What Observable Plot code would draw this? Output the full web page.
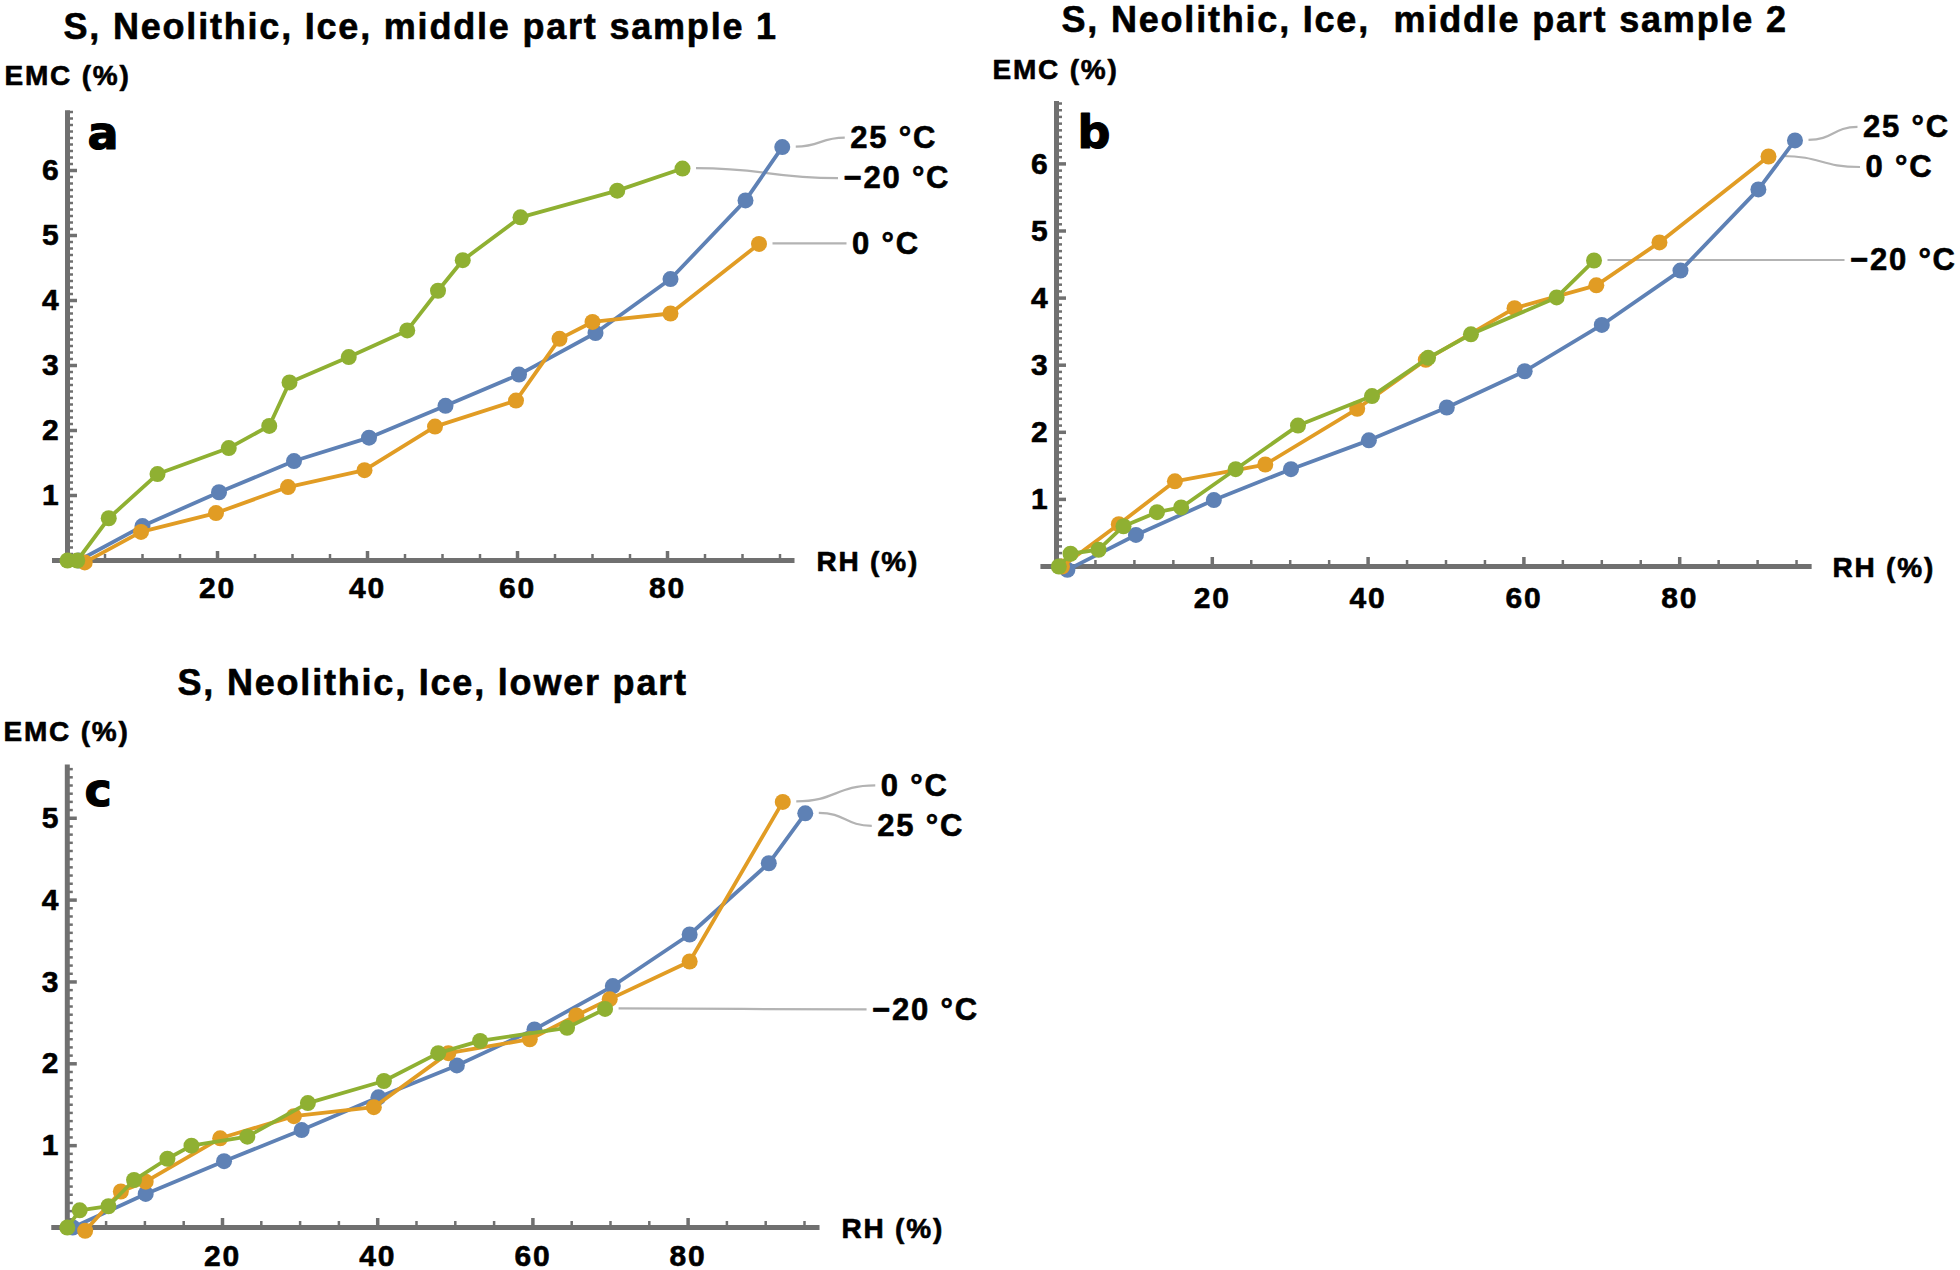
<!DOCTYPE html>
<html><head><meta charset="utf-8">
<script src="https://cdn.jsdelivr.net/npm/d3@7"></script>
<script src="https://cdn.jsdelivr.net/npm/@observablehq/plot@0.6"></script>
<style>
body{margin:0;background:#fff;}
#wrap{position:relative;width:1960px;height:1270px;overflow:hidden;background:#fff;}
.panel{position:absolute;}
.panel svg{overflow:visible;}
</style></head><body><div id="wrap"></div>
<script>
// ---------- data (RH %, EMC %) ----------
// Panel a: S, Neolithic, Ice, middle part sample 1
const rhA25  = [1.5, 10.0, 20.2, 30.2, 40.2, 50.4, 60.2, 70.4, 80.4, 90.4, 95.3];
const emcA25 = [0, 0.53, 1.05, 1.53, 1.89, 2.38, 2.86, 3.50, 4.33, 5.54, 6.36];
const rhA0   = [2.3, 9.8, 19.8, 29.4, 39.6, 49.0, 59.8, 65.6, 70.0, 80.4, 92.2];
const emcA0  = [-0.03, 0.44, 0.73, 1.13, 1.39, 2.06, 2.46, 3.41, 3.67, 3.80, 4.87];
const rhAm20 = [0, 1.3, 5.5, 12.0, 21.5, 26.9, 29.6, 37.5, 45.3, 49.4, 52.7, 60.4, 73.3, 82.0];
const emcAm20= [0, 0, 0.65, 1.33, 1.73, 2.07, 2.74, 3.13, 3.54, 4.15, 4.62, 5.28, 5.69, 6.03];
// Panel b: S, Neolithic, Ice, middle part sample 2
const rhB25  = [1.4, 10.2, 20.2, 30.1, 40.1, 50.1, 60.1, 70.0, 80.1, 90.1, 94.8];
const emcB25 = [-0.05, 0.47, 0.99, 1.45, 1.88, 2.37, 2.91, 3.60, 4.41, 5.62, 6.35];
const rhB0   = [0.7, 8.0, 15.2, 26.8, 38.6, 47.4, 58.8, 69.3, 77.4, 91.4];
const emcB0  = [0, 0.63, 1.27, 1.52, 2.35, 3.08, 3.85, 4.19, 4.83, 6.11];
const rhBm20 = [0.3, 1.8, 5.4, 8.6, 12.9, 16.0, 23.0, 31.0, 40.5, 47.7, 53.2, 64.2, 69.0];
const emcBm20= [0, 0.19, 0.25, 0.60, 0.81, 0.88, 1.45, 2.10, 2.54, 3.11, 3.46, 4.01, 4.56];
// Panel c: S, Neolithic, Ice, lower part
const rhC25  = [0.7, 10.1, 20.2, 30.2, 40.1, 50.2, 60.2, 70.3, 80.2, 90.4, 95.1];
const emcC25 = [0, 0.41, 0.81, 1.19, 1.59, 1.98, 2.42, 2.95, 3.58, 4.45, 5.06];
const rhC0   = [2.3, 6.9, 10.1, 19.7, 29.2, 39.5, 49.1, 59.6, 65.6, 69.9, 80.2, 92.2];
const emcC0  = [-0.04, 0.44, 0.56, 1.09, 1.36, 1.47, 2.13, 2.30, 2.59, 2.79, 3.25, 5.20];
const rhCm20 = [0, 1.6, 5.3, 8.6, 12.9, 16.0, 23.2, 31.0, 40.8, 47.8, 53.2, 64.4, 69.3];
const emcCm20= [0, 0.21, 0.26, 0.58, 0.84, 1.00, 1.11, 1.52, 1.79, 2.13, 2.28, 2.44, 2.67];

// ---------- labels & ticks ----------
const titles = ["S, Neolithic, Ice, middle part sample 1",
                "S, Neolithic, Ice,\u00a0 middle part sample 2",
                "S, Neolithic, Ice, lower part"];
const seriesNames = {t25: "25 °C", t0: "0 °C", tm20: "\u221220 °C"};
const yLabel = "EMC (%)", xLabel = "RH (%)";
const xMajor = [20, 40, 60, 80];
const yMajorAB = [1, 2, 3, 4, 5, 6];
const yMajorC = [1, 2, 3, 4, 5];

// ---------- style ----------
const C25 = "#5E81B5", C0 = "#E19C24", Cm20 = "#8FB032";
const AXIS = "#707070", LEADER = "#b3b3b3";
const FONT = "'Liberation Sans', Arial, Helvetica, sans-serif";
const LETTER_FONT = "'DejaVu Sans', Verdana, sans-serif";
const TXT = {fill: "black", stroke: "black", strokeWidth: 0.6, fontWeight: "bold"};

const rows = (xs, ys) => xs.map((x, i) => ({x, y: ys[i]}));

const panels = [
  {left: 0, top: 0, width: 980, height: 640, x0: 67, xu: 7.5, y0: 560, yu: 65, yMax: 6.92,
   yMajor: yMajorAB, title: titles[0], letter: "a",
   titlePos: [63, 38], emcPos: [4, 84], rhPos: [816, 570], letterPos: [87, 148], xLabelDy: 37,
   series: [
     {name: seriesNames.t25, d: rows(rhA25, emcA25), color: C25, dx: 68, dy: -9},
     {name: seriesNames.t0, d: rows(rhA0, emcA0), color: C0, dx: 93, dy: 0},
     {name: seriesNames.tm20, d: rows(rhAm20, emcAm20), color: Cm20, dx: 161, dy: 10}]},
  {left: 980, top: 0, width: 980, height: 640, x0: 76, xu: 7.79, y0: 566, yu: 67.1, yMax: 6.93,
   yMajor: yMajorAB, title: titles[1], letter: "b",
   titlePos: [81, 31], emcPos: [12, 78], rhPos: [852, 576], letterPos: [97, 147], xLabelDy: 41,
   series: [
     {name: seriesNames.t25, d: rows(rhB25, emcB25), color: C25, dx: 68, dy: -13},
     {name: seriesNames.t0, d: rows(rhB0, emcB0), color: C0, dx: 97, dy: 11},
     {name: seriesNames.tm20, d: rows(rhBm20, emcBm20), color: Cm20, dx: 256, dy: 0}]},
  {left: 0, top: 640, width: 980, height: 630, x0: 66.8, xu: 7.76, y0: 587, yu: 81.85, yMax: 5.65,
   yMajor: yMajorC, title: titles[2], letter: "c",
   titlePos: [177, 54], emcPos: [3, 100], rhPos: [841, 597], letterPos: [84, 165], xLabelDy: 38,
   series: [
     {name: seriesNames.t25, d: rows(rhC25, emcC25), color: C25, dx: 72, dy: 13},
     {name: seriesNames.t0, d: rows(rhC0, emcC0), color: C0, dx: 98, dy: -16},
     {name: seriesNames.tm20, d: rows(rhCm20, emcCm20), color: Cm20, dx: 267, dy: 1}]}
];

const xDomain = [-2, 97];
const xMinor = d3.range(5, 100, 5).filter(v => v % 20 !== 0);

function drawPanel(p) {
  const m = {
    left: p.x0 + xDomain[0] * p.xu,
    right: p.width - (p.x0 + xDomain[1] * p.xu),
    top: p.y0 - p.yMax * p.yu,
    bottom: p.height - p.y0
  };
  const yMinor = d3.range(1, Math.floor(p.yMax * 10 + 1e-6) + 1).map(v => v / 10).filter(v => Math.abs(v - Math.round(v)) > 1e-6);
  const fixed = (str, pos, opts) => Plot.text([str], {
    frameAnchor: "top-left", dx: pos[0] - m.left, dy: pos[1] - m.top,
    text: d => d, textAnchor: "start", lineAnchor: "bottom", ...TXT, ...opts
  });
  const marks = [
    Plot.ruleY(yMinor, {y: d => d, x1: 0, x2: 0, insetRight: -6, stroke: AXIS, strokeWidth: 2.5}),
    Plot.ruleY(p.yMajor, {y: d => d, x1: 0, x2: 0, insetRight: -10, stroke: AXIS, strokeWidth: 3.5}),
    Plot.ruleX(xMinor, {x: d => d, y1: 0, y2: 0, insetTop: -6, stroke: AXIS, strokeWidth: 2.5}),
    Plot.ruleX(xMajor, {x: d => d, y1: 0, y2: 0, insetTop: -9, stroke: AXIS, strokeWidth: 3.5}),
    Plot.ruleY([0], {stroke: AXIS, strokeWidth: 5}),
    Plot.ruleX([0], {stroke: AXIS, strokeWidth: 5}),
    Plot.text(p.yMajor, {x: 0, y: d => d, text: d => String(d), textAnchor: "end", lineAnchor: "middle", dx: -7, fontSize: 30, ...TXT}),
    Plot.text(xMajor, {x: d => d, y: 0, text: d => String(d), textAnchor: "middle", lineAnchor: "bottom", dy: p.xLabelDy, fontSize: 30, ...TXT})
  ];
  for (const s of p.series) {
    marks.push(Plot.line(s.d, {x: "x", y: "y", stroke: s.color, strokeWidth: 3.8, strokeLinejoin: "round"}));
    marks.push(Plot.dot(s.d, {x: "x", y: "y", r: 8, fill: s.color, stroke: "none"}));
  }
  for (const s of p.series) {
    const last = s.d[s.d.length - 1];
    marks.push(Plot.text([last], {x: "x", y: "y", text: () => s.name, dx: s.dx, dy: s.dy, textAnchor: "start", lineAnchor: "middle", fontSize: 31, ...TXT}));
  }
  marks.push(
    fixed(p.title, p.titlePos, {fontSize: 36}),
    fixed(yLabel, p.emcPos, {fontSize: 28}),
    fixed(xLabel, p.rhPos, {fontSize: 28}),
    fixed(p.letter, p.letterPos, {fontSize: 46, fontFamily: LETTER_FONT, strokeWidth: 1.2})
  );
  const plot = Plot.plot({
    width: p.width, height: p.height,
    marginLeft: m.left, marginRight: m.right, marginTop: m.top, marginBottom: m.bottom,
    x: {domain: xDomain, axis: null},
    y: {domain: [0, p.yMax], axis: null},
    style: `font-family: ${FONT}; letter-spacing: 1.8px; background: transparent; overflow: visible;`,
    marks
  });
  // callout leader lines, positioned with the plot's own scales
  const sx = plot.scale("x"), sy = plot.scale("y");
  const g = d3.select(plot).insert("g", "g").attr("fill", "none").attr("stroke", LEADER).attr("stroke-width", 2.2);
  for (const s of p.series) {
    const last = s.d[s.d.length - 1];
    const px = sx.apply(last.x), py = sy.apply(last.y);
    const x1 = px + 14, y1 = py, x2 = px + s.dx - 5, y2 = py + s.dy;
    const mid = (x1 + x2) / 2;
    g.append("path").attr("d", `M${x1},${y1} C${mid},${y1} ${mid},${y2} ${x2},${y2}`);
  }
  const div = document.createElement("div");
  div.className = "panel";
  div.style.left = p.left + "px";
  div.style.top = p.top + "px";
  div.style.width = p.width + "px";
  div.style.height = p.height + "px";
  div.appendChild(plot);
  document.getElementById("wrap").appendChild(div);
}
panels.forEach(drawPanel);
</script>
</body></html>
